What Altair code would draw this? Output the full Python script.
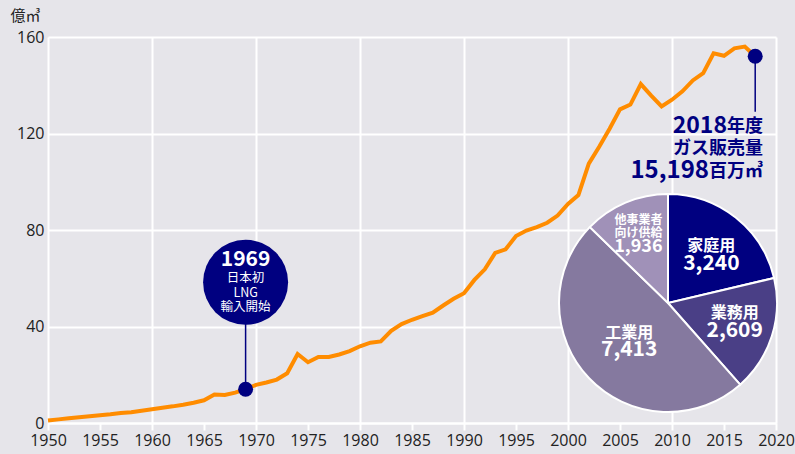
import altair as alt
import pandas as pd

# ---- data ----
years = list(range(1950, 2019))
sales = [1.0, 1.5, 2.0, 2.4, 2.8, 3.2, 3.6, 4.1, 4.5, 5.1,
         5.7, 6.3, 6.9, 7.6, 8.4, 9.4, 11.8, 11.6, 12.6, 14.0,
         15.8, 16.8, 18.0, 20.6, 28.6, 25.2, 27.4, 27.4, 28.4, 29.8,
         31.8, 33.3, 33.8, 38.2, 41.0, 42.8, 44.3, 45.7, 48.7, 51.5,
         53.8, 59.3, 63.7, 70.5, 72.0, 77.5, 79.8, 81.2, 83.0, 86.0,
         90.8, 94.5, 107.5, 114.5, 122.0, 130.0, 132.0, 140.5, 135.7, 131.2,
         134.0, 137.5, 142.0, 145.0, 153.2, 152.2, 155.3, 156.0, 152.0]

pie_cats = ["家庭用", "業務用", "工業用", "他事業者向け供給"]
pie_names = ["家庭用", "業務用", "工業用", "他事業者\n向け供給"]
pie_vals = [3240, 2609, 7413, 1936]
pie_colors = ["#000080", "#4a3f86", "#85799f", "#a091b8"]

x_ticks = list(range(1950, 2021, 5))
y_ticks = [0, 40, 80, 120, 160]
y_unit = "億㎥"

ann1_year = 1969
ann1_title = "1969"
ann1_lines = "日本初\nLNG\n輸入開始"
ann2_year = 2018
ann2_year_txt = "2018"
ann2_year_suffix = "年度"
ann2_line2 = "ガス販売量"
ann2_total = "15,198"
ann2_unit = "百万㎥"

BG = "#e6e5ea"
NAVY = "#000080"
ORANGE = "#ff8c00"
FONT = "Noto Sans CJK JP"
AXFONT = "Open Sans"

df = pd.DataFrame({"year": years, "value": sales})
one = pd.DataFrame({"k": [0]})
pie_df = pd.DataFrame({"cat": pie_cats, "name": pie_names, "val": pie_vals,
                       "ord": list(range(len(pie_cats)))})

xscale = alt.Scale(domain=[1950, 2020], nice=False, zero=False)
yscale = alt.Scale(domain=[0, 160], nice=False)

x_axis = alt.Axis(values=x_ticks, format="d", title=None, grid=True,
                  gridColor="white", gridWidth=2,
                  gridOpacity={"condition": {"test": "datum.value % 10 !== 0", "value": 0}, "value": 1},
                  domain=True, domainColor="white", domainWidth=2,
                  ticks=True, tickColor="white", tickWidth=2, tickSize=7,
                  labelFont=AXFONT, labelFontSize=16, labelColor="#222", labelPadding=2,
                  labelFlush=False)
y_axis = alt.Axis(values=y_ticks, title=y_unit, grid=True, gridColor="white", gridWidth=2,
                  domain=False, ticks=False, labelFont=AXFONT, labelFontSize=16,
                  labelColor="#222", labelPadding=4,
                  titleAngle=0, titleAlign="left", titleBaseline="alphabetic",
                  titleX=-38, titleY=-17, titleFont=FONT, titleFontSize=15,
                  titleFontWeight="normal", titleColor="#222")

base = alt.Chart(df)

line = base.mark_line(color=ORANGE, strokeWidth=4).encode(
    x=alt.X("year:Q", scale=xscale, axis=x_axis),
    y=alt.Y("value:Q", scale=yscale, axis=y_axis),
)

# ---- pie ----
PCX, PCY = 620, 266
pie = alt.Chart(pie_df).mark_arc(outerRadius=109, stroke="white", strokeWidth=2).encode(
    theta=alt.Theta("val:Q", stack=True),
    color=alt.Color("cat:N", scale=alt.Scale(domain=pie_cats, range=pie_colors), legend=None),
    order=alt.Order("ord:Q"),
    x=alt.value(PCX), y=alt.value(PCY),
)

label_layout = {
    "家庭用": dict(r=65, dx=3, name_dy=-6, num_dy=12, name_size=16, num_size=21, lh=16),
    "業務用": dict(r=70, dx=0, name_dy=-11, num_dy=6.5, name_size=16, num_size=21, lh=16),
    "工業用": dict(r=55, dx=1, name_dy=-8, num_dy=9.5, name_size=16, num_size=21, lh=16),
    "他事業者向け供給": dict(r=76, dx=0, name_dy=-13.5, num_dy=14, name_size=12, num_size=18, lh=13.5),
}

# mid-angle of each slice computed from the data (cumulative sum)
pie_mid = alt.Chart(pie_df).transform_window(
    cum="sum(val)", sort=[alt.SortField("ord")], frame=[None, 0]
).transform_calculate(
    mid="datum.cum - datum.val / 2", num="format(datum.val, ',')"
)

pie_labels = []
for cat in pie_cats:
    L = label_layout[cat]
    common = dict(
        theta=alt.Theta("mid:Q", stack=None),
        x=alt.value(PCX), y=alt.value(PCY),
    )
    sel = pie_mid.transform_filter(alt.datum.cat == cat)
    name_layer = sel.mark_text(radius=L["r"], dx=L["dx"], dy=L["name_dy"], color="white", font=FONT,
                               fontSize=L["name_size"], fontWeight="bold", align="center",
                               baseline="middle", lineBreak="\n", lineHeight=L["lh"]).encode(
        text=alt.Text("name:N"), **common)
    num_layer = sel.mark_text(radius=L["r"], dx=L["dx"], dy=L["num_dy"], color="white", font=FONT,
                              fontSize=L["num_size"], fontWeight="bold", align="center",
                              baseline="middle").encode(
        text=alt.Text("num:N"), **common)
    pie_labels += [name_layer, num_layer]

# ---- 1969 annotation ----
pt1 = base.transform_filter(alt.datum.year == ann1_year)
rule1 = pt1.mark_rule(color=NAVY, strokeWidth=1.5).encode(
    x="year:Q", y="value:Q", y2=alt.datum(58.3))
bubble1 = alt.Chart(one).mark_circle(color=NAVY, opacity=1, size=7225).encode(
    x=alt.datum(ann1_year), y=alt.datum(58.3))
bubble1_title = alt.Chart(one).mark_text(color="white", font=FONT, fontSize=21,
                                          fontWeight="bold", baseline="middle").encode(
    x=alt.datum(ann1_year), y=alt.value(222.5), text=alt.value(ann1_title))
bubble1_text = alt.Chart(one).mark_text(color="white", font=FONT, fontSize=12.5,
                                         baseline="middle", lineBreak="\n", lineHeight=14.5).encode(
    x=alt.datum(ann1_year), y=alt.value(241.3), text=alt.value(ann1_lines))

# ---- 2018 annotation ----
pt2 = base.transform_filter(alt.datum.year == ann2_year)
rule2 = pt2.mark_rule(color=NAVY, strokeWidth=1.5).encode(
    x="year:Q", y="value:Q", y2=alt.datum(129))
dots = base.transform_filter(
    (alt.datum.year == ann1_year) | (alt.datum.year == ann2_year)
).mark_circle(color=NAVY, opacity=1, size=225).encode(x="year:Q", y="value:Q")


def ann_text(txt, xpx, ypx, size):
    return alt.Chart(one).mark_text(color=NAVY, font=FONT, fontSize=size, fontWeight="bold",
                                    align="right", baseline="alphabetic").encode(
        x=alt.value(xpx), y=alt.value(ypx), text=alt.value(txt))


ann2 = [
    ann_text(ann2_year_txt, 679, 96, 23),
    ann_text(ann2_year_suffix, 715, 95, 18),
    ann_text(ann2_line2, 715, 116.5, 18),
    ann_text(ann2_total, 661, 140.5, 24),
    ann_text(ann2_unit, 715, 139.5, 18),
]

chart = alt.layer(
    line, pie, *pie_labels, rule1, bubble1, bubble1_title, bubble1_text, rule2, dots, *ann2
).properties(
    width=728, height=386, background=BG,
    padding={"left": 48, "top": 37, "right": 19, "bottom": 31},
    autosize=alt.AutoSizeParams(type="none"),
).configure_view(stroke=None, fill=BG)

chart.save("out.html", embed_options={"renderer": "svg", "actions": False})
